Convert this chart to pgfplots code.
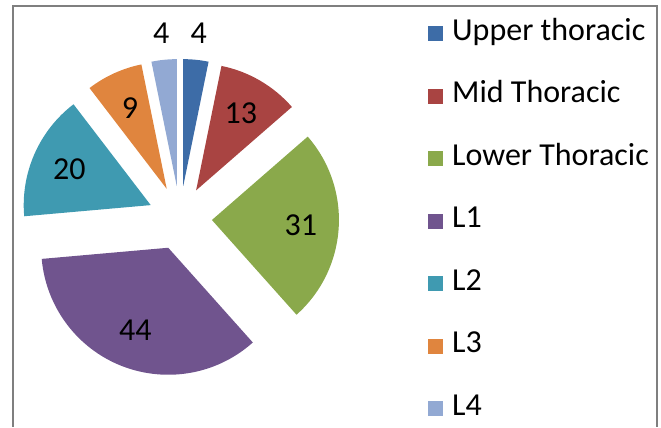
\documentclass[border=0pt]{standalone}
\usepackage{fontspec}
\setmainfont{Carlito}
\usepackage{pgfplots}
\usepackage{pgfplotstable}
\pgfplotsset{compat=1.18}

\definecolor{c0}{HTML}{3D6CA7}
\definecolor{c1}{HTML}{A94442}
\definecolor{c2}{HTML}{8AA94B}
\definecolor{c3}{HTML}{70548E}
\definecolor{c4}{HTML}{3F9AB1}
\definecolor{c5}{HTML}{E0853E}
\definecolor{c6}{HTML}{92A9D3}
\definecolor{framegray}{HTML}{7F7F7F}

% value, label distance from pie centre (px), legend name
\pgfplotstableread[col sep=comma]{
value,lr,name
4,186,Upper thoracic
13,121,Mid Thoracic
31,121,Lower Thoracic
44,121,L1
20,121,L2
9,121,L3
4,186,L4
}\piedata

\newcommand{\bigfont}{\fontsize{32}{37}\selectfont}

\begin{document}
\begin{tikzpicture}
\begin{axis}[
  scale only axis, width=661pt, height=427pt,
  xmin=0, xmax=661, ymin=0, ymax=427,
  hide axis, clip=false,
]
\path (axis cs:0,0) rectangle (axis cs:661,427);
% frame
\draw[framegray, line width=1.4pt] (axis cs:13,0) -- (axis cs:13,421) -- (axis cs:657,421) -- (axis cs:657,0);

\def\cx{180}\def\cy{209}\def\rr{127}\def\dd{32}
% total
\def\total{0}
\pgfplotsforeachungrouped \i in {0,...,6}{%
  \pgfplotstablegetelem{\i}{value}\of\piedata
  \pgfmathsetmacro\total{\total+\pgfplotsretval}%
}
\pgfmathsetmacro\degper{360/\total}
\def\cum{0}
\pgfplotsforeachungrouped \i in {0,...,6}{%
  \pgfplotstablegetelem{\i}{value}\of\piedata
  \edef\v{\pgfplotsretval}%
  \pgfplotstablegetelem{\i}{lr}\of\piedata
  \edef\lr{\pgfplotsretval}%
  \pgfplotstablegetelem{\i}{name}\of\piedata
  \edef\nm{\pgfplotsretval}%
  \pgfmathsetmacro\start{90-\degper*\cum}%
  \pgfmathsetmacro\stop{90-\degper*(\cum+\v)}%
  \pgfmathsetmacro\mid{(\start+\stop)/2}%
  \pgfmathsetmacro\tx{\cx+\dd*cos(\mid)}%
  \pgfmathsetmacro\ty{\cy+\dd*sin(\mid)}%
  \pgfmathsetmacro\lx{\cx+\lr*cos(\mid)}%
  \pgfmathsetmacro\ly{\cy+\lr*sin(\mid)}%
  \pgfmathsetmacro\legy{427-(34+62.5*\i)}%
  \pgfmathsetmacro\legb{\legy-6.5}%
  \pgfmathsetmacro\lega{\legy-7.5}%
  \pgfmathsetmacro\legc{\legy+7.5}%
  \edef\temp{%
    \noexpand\fill[c\i] (axis cs:\tx,\ty) -- ++(\start:\rr pt)
      arc[start angle=\start, end angle=\stop, radius=\rr pt] -- cycle;
    \noexpand\node[font=\noexpand\bigfont, inner sep=0pt] at (axis cs:\lx,\ly) {\v};
    \noexpand\fill[c\i] (axis cs:428,\lega) rectangle (axis cs:443,\legc);
    \noexpand\node[font=\noexpand\bigfont, anchor=base west, inner sep=0pt] at (axis cs:452,\legb) {\nm};
  }%
  \temp
  \pgfmathsetmacro\cum{\cum+\v}%
}
\end{axis}
\end{tikzpicture}
\end{document}
